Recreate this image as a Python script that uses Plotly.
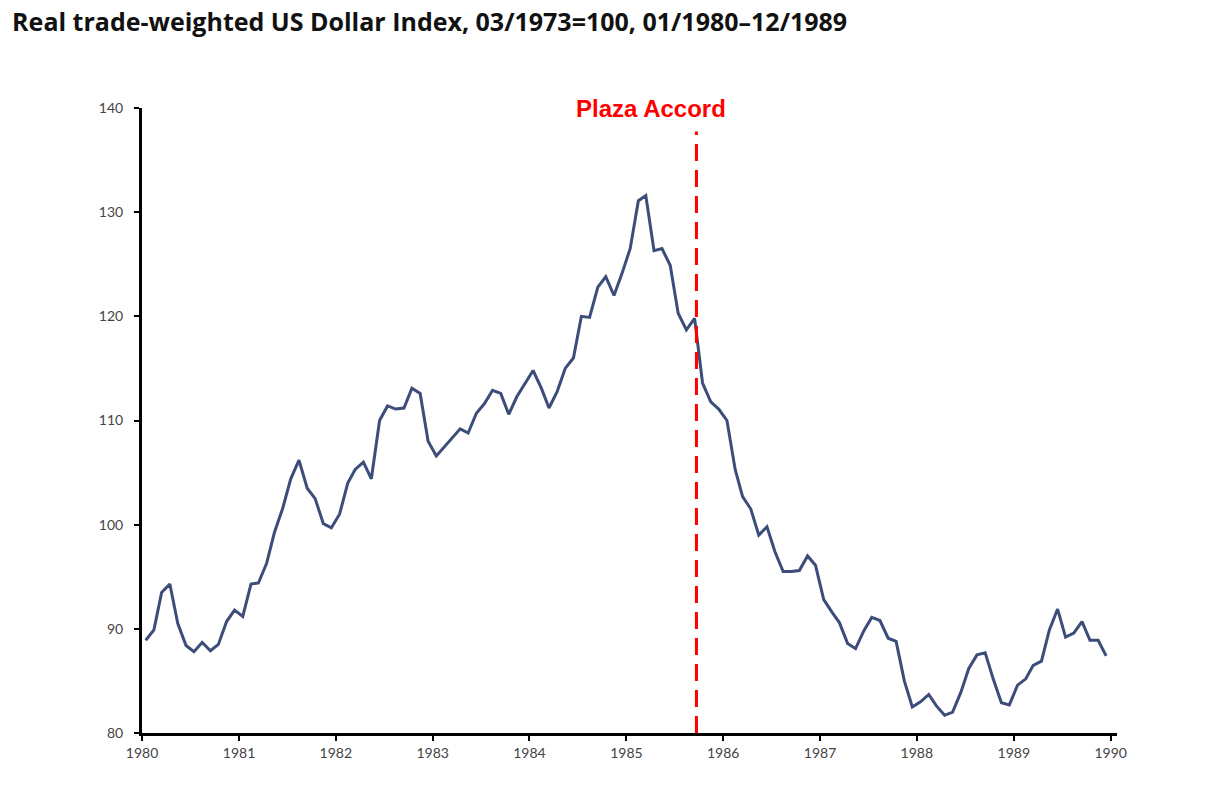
import plotly.graph_objects as go

months = [f"{y}-{m:02d}-15" for y in range(1980, 1990) for m in range(1, 13)]

index_values = [
    88.9, 89.9, 93.5, 94.3, 90.5, 88.4, 87.8, 88.7, 87.9, 88.5, 90.7, 91.8,
    91.2, 94.3, 94.4, 96.3, 99.3, 101.6, 104.4, 106.2, 103.5, 102.5, 100.1, 99.7,
    101.0, 104.0, 105.3, 106.0, 104.4, 110.0, 111.4, 111.1, 111.2, 113.1, 112.6, 108.0,
    106.6, 107.5, 108.3, 109.2, 108.8, 110.7, 111.6, 112.9, 112.6, 110.6, 112.3, 113.5,
    114.8, 113.1, 111.2, 112.8, 115.0, 116.0, 120.0, 119.9, 122.8, 123.8, 122.0, 124.1,
    126.5, 131.1, 131.6, 126.3, 126.5, 124.9, 120.3, 118.7, 119.8, 113.6, 111.8, 111.1,
    110.0, 105.3, 102.7, 101.5, 99.0, 99.8, 97.4, 95.5, 95.5, 95.6, 97.0, 96.1,
    92.8, 91.6, 90.6, 88.6, 88.1, 89.8, 91.1, 90.8, 89.1, 88.8, 85.0, 82.5,
    83.0, 83.7, 82.6, 81.7, 82.0, 83.9, 86.2, 87.5, 87.7, 85.2, 82.9, 82.7,
    84.6, 85.2, 86.5, 86.9, 89.9, 91.9, 89.2, 89.6, 90.7, 88.9, 88.9, 87.4,
]

year_ticks = [f"{y}-01-01" for y in range(1980, 1991)]
year_labels = [str(y) for y in range(1980, 1991)]
y_ticks = [80, 90, 100, 110, 120, 130, 140]

plaza_date = "1985-09-22"
plaza_label = "Plaza Accord"
title_text = "Real trade-weighted US Dollar Index, 03/1973=100, 01/1980\u201312/1989"

fig = go.Figure()
fig.add_trace(go.Scatter(
    x=months, y=index_values, mode="lines",
    line=dict(color="#3c4d7a", width=3),
    hoverinfo="x+y", showlegend=False,
))

fig.add_shape(type="line", xref="x", yref="y",
              x0=plaza_date, x1=plaza_date, y0=80, y1=137.75,
              line=dict(color="#ff0000", width=3, dash="17px,9px"))

fig.add_annotation(x=plaza_date, y=140, xref="x", yref="y",
                   text=f"<b>{plaza_label}</b>", showarrow=False,
                   xanchor="center", yanchor="middle", xshift=-45,
                   font=dict(family="Liberation Sans, Arial", size=24, color="#ff0000"))

fig.update_layout(
    width=1212, height=785,
    margin=dict(l=142, r=95, t=108, b=52),
    paper_bgcolor="white", plot_bgcolor="white",
    title=dict(text=f"<b>{title_text}</b>", x=0.01, xanchor="left",
               y=1 - 22 / 785, yanchor="middle",
               font=dict(family="Open Sans", size=25, color="#111111")),
    xaxis=dict(
        type="date", range=["1980-01-01", "1990-01-25"],
        tickvals=year_ticks, ticktext=year_labels,
        showline=True, linecolor="black", linewidth=3,
        ticks="outside", ticklen=5, tickwidth=2, tickcolor="black",
        showgrid=False, zeroline=False,
        tickfont=dict(family="Lato", size=14, color="#444444"),
    ),
    yaxis=dict(
        range=[80, 140], tickvals=y_ticks,
        showline=True, linecolor="black", linewidth=3,
        ticks="outside", ticklen=5, tickwidth=2, tickcolor="black",
        showgrid=False, zeroline=False, ticklabelstandoff=8,
        tickfont=dict(family="Lato", size=14, color="#444444"),
    ),
)

fig.write_html("out.html")
